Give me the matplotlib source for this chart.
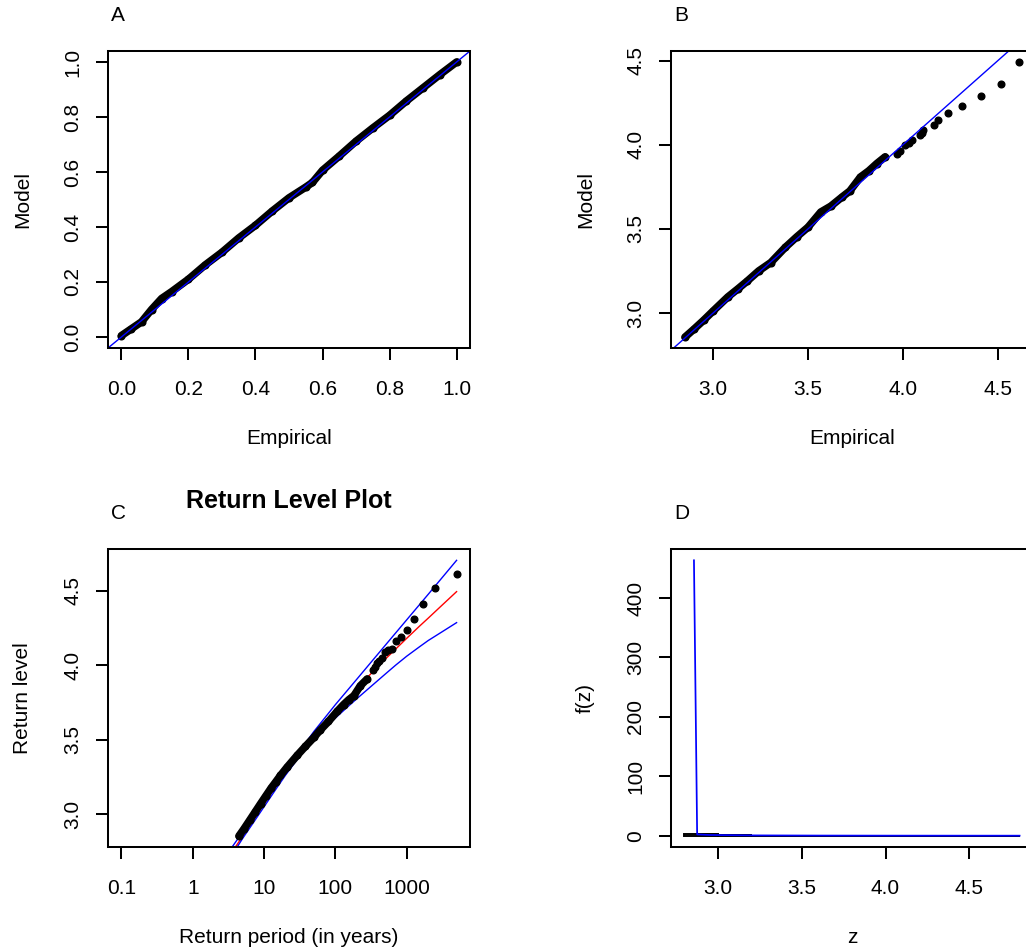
import matplotlib
matplotlib.use("Agg")
import matplotlib.pyplot as plt

plt.rcParams['font.family'] = ['Liberation Sans', 'DejaVu Sans']

# --- A: probability plot (empirical vs model probabilities)
pp_empirical = [0.0, 0.03, 0.06, 0.09, 0.12, 0.15, 0.2, 0.25, 0.3, 0.35, 0.4, 0.45,
                0.5, 0.55, 0.57, 0.6, 0.65, 0.7, 0.75, 0.8, 0.85, 0.9, 0.95, 1.0]
pp_model = [0.005, 0.03, 0.055, 0.1, 0.14, 0.165, 0.21, 0.262, 0.308, 0.36, 0.406, 0.458,
            0.506, 0.545, 0.562, 0.606, 0.658, 0.712, 0.76, 0.806, 0.858, 0.906, 0.954, 1.0]

# --- B: quantile plot, dense body and the sparse upper tail
qq_emp_body = [2.852, 2.9, 2.95, 3.0, 3.077, 3.13, 3.18, 3.24, 3.304, 3.38, 3.44, 3.5,
               3.567, 3.62, 3.68, 3.72, 3.776, 3.82, 3.862, 3.906]
qq_model_body = [2.857, 2.905, 2.957, 3.012, 3.095, 3.143, 3.19, 3.25, 3.3, 3.39, 3.452, 3.51,
                 3.6, 3.635, 3.69, 3.725, 3.808, 3.845, 3.888, 3.928]
z_upper = [3.969, 3.985, 4.012, 4.03, 4.047, 4.091, 4.1, 4.108, 4.161, 4.187, 4.236,
           4.309, 4.411, 4.519, 4.612]
qq_model_upper = [3.947, 3.965, 3.997, 4.012, 4.026, 4.056, 4.07, 4.09, 4.119, 4.149, 4.189,
                  4.23, 4.288, 4.363, 4.492]

# --- C: return levels
rl_period_body = [4.45, 5.2, 6.3, 7.5, 8.93, 10.5, 12.6, 14.5, 17.0, 21.0, 29.2, 38, 50,
                  61.8, 80, 106, 130, 154, 182, 224, 279]
rl_level_body = [2.854, 2.9, 2.96, 3.015, 3.07, 3.12, 3.176, 3.215, 3.26, 3.315, 3.395, 3.455,
                 3.515, 3.566, 3.622, 3.69, 3.735, 3.768, 3.795, 3.862, 3.907]
rl_period_upper = [333, 355, 385, 415, 455, 500, 555, 625, 715, 835, 1000, 1250, 1670, 2500, 5000]

rl_upper_period = [3.3, 5, 10, 20, 50, 100, 200, 500, 1000, 2000, 5000]
rl_upper = [2.757, 2.88, 3.09, 3.295, 3.555, 3.735, 3.906, 4.133, 4.304, 4.475, 4.703]
rl_est_period = [3.7, 5, 7, 10, 15, 20, 30, 50, 70, 100, 150, 200, 300, 500, 700, 1000,
                 1500, 2000, 3000, 5000]
rl_est = [2.759, 2.851, 2.958, 3.07, 3.195, 3.285, 3.405, 3.53, 3.611, 3.69, 3.782, 3.845,
          3.932, 4.04, 4.108, 4.18, 4.26, 4.315, 4.394, 4.493]
rl_lower_period = [3.9, 5, 7, 10, 15, 20, 30, 50, 70, 100, 150, 200, 300, 500, 700, 1000,
                   1500, 2000, 3000, 5000]
rl_lower = [2.756, 2.837, 2.94, 3.05, 3.175, 3.262, 3.375, 3.5, 3.575, 3.645, 3.722, 3.775,
            3.848, 3.94, 4.0, 4.06, 4.122, 4.165, 4.218, 4.285]

# --- D: histogram and fitted density
hist_breaks = [2.8, 3.0, 3.2, 3.4, 3.6, 3.8, 4.0, 4.2, 4.4, 4.6, 4.8]
hist_density = [3.4, 0.9, 0.25, 0.1, 0.05, 0.03, 0.015, 0.008, 0.004, 0.002]
dens_z = [2.857, 2.876, 2.95, 3.2, 3.6, 4.0, 4.4, 4.8]
dens_f = [463.5, 2.2, 1.2, 0.5, 0.2, 0.08, 0.03, 0.01]

W, H = 1026, 952
fig = plt.figure(figsize=(W / 100, H / 100), dpi=100)


def make_axes(left, top, right, bottom):
    return fig.add_axes([left / W, 1 - bottom / H, (right - left) / W, (bottom - top) / H])


def r_style(ax, xticks, xlabels, yticks, ylabels, xlab, ylab):
    ax.minorticks_off()
    ax.set_xticks(xticks, xlabels)
    ax.set_yticks(yticks, ylabels)
    for s in ax.spines.values():
        s.set_linewidth(1.45)
    ax.tick_params(axis='both', length=8.6, width=1.45, labelsize=15, color='black')
    ax.tick_params(axis='x', pad=14.4)
    ax.tick_params(axis='y', pad=12.7)
    for t in ax.get_yticklabels():
        t.set_rotation(90)
        t.set_rotation_mode('anchor')
        t.set_ha('center')
        t.set_va('baseline')
    ax.annotate(xlab, xy=(0.5, 0), xycoords='axes fraction', xytext=(0, -96),
                textcoords='offset pixels', ha='center', va='baseline', fontsize=15)
    ax.annotate(ylab, xy=(0, 0.5), xycoords='axes fraction', xytext=(-80, 0),
                textcoords='offset pixels', ha='center', va='baseline', fontsize=15,
                rotation=90, rotation_mode='anchor')


def dense(ax, x, y, lw=5.5):
    # many overlapping points drawn as a thick band plus the read points
    ax.plot(x, y, color='black', lw=lw, solid_capstyle='round', solid_joinstyle='round')
    ax.plot(x, y, 'o', color='black', ms=4.8)


# A
axA = make_axes(108, 51, 470, 348)
dense(axA, pp_empirical, pp_model)
axA.axline((0, 0), slope=1, color='#0000FF', lw=1.0)
axA.set_xlim(-0.04, 1.04)
axA.set_ylim(-0.04, 1.04)
ticks01 = [0.0, 0.2, 0.4, 0.6, 0.8, 1.0]
r_style(axA, ticks01, [f"{v:.1f}" for v in ticks01], ticks01, [f"{v:.1f}" for v in ticks01],
        'Empirical', 'Model')

# B
axB = make_axes(671, 51, 1033, 348)
dense(axB, qq_emp_body, qq_model_body, lw=5.5)
axB.plot(z_upper, qq_model_upper, 'o', color='black', ms=4.8)
axB.axline((3, 3), slope=1, color='#0000FF', lw=1.0)
axB.set_xlim(2.778, 4.685)
axB.set_ylim(2.792, 4.557)
ticksB = [3.0, 3.5, 4.0, 4.5]
r_style(axB, ticksB, [f"{v:.1f}" for v in ticksB], ticksB, [f"{v:.1f}" for v in ticksB],
        'Empirical', 'Model')

# C
axC = make_axes(108, 549.3, 470, 846.7)
axC.set_xscale('log')
axC.plot(rl_upper_period, rl_upper, color='#0000FF', lw=1.0)
axC.plot(rl_est_period, rl_est, color='#FF0000', lw=1.0)
axC.plot(rl_lower_period, rl_lower, color='#0000FF', lw=1.0)
dense(axC, rl_period_body, rl_level_body)
axC.plot(rl_period_upper, z_upper, 'o', color='black', ms=4.8)
axC.set_xlim(0.0649, 7709)
axC.set_ylim(2.782, 4.777)
ticksCx = [0.1, 1, 10, 100, 1000]
r_style(axC, ticksCx, ['0.1', '1', '10', '100', '1000'], ticksB, [f"{v:.1f}" for v in ticksB],
        'Return period (in years)', 'Return level')
axC.annotate('Return Level Plot', xy=(0.5, 1), xycoords='axes fraction', xytext=(0, 41),
             textcoords='offset pixels', ha='center', va='baseline', fontsize=18,
             fontweight='bold')

# D
axD = make_axes(671, 549.3, 1033, 846.7)
axD.bar(hist_breaks[:-1], hist_density, width=0.2, align='edge', fill=False,
        edgecolor='black', linewidth=1.4)
axD.plot(dens_z, dens_f, color='#0000FF', lw=1.25)
axD.set_xlim(2.72, 4.88)
axD.set_ylim(-18.54, 482.04)
ticksDy = [0, 100, 200, 300, 400]
r_style(axD, ticksB, [f"{v:.1f}" for v in ticksB], ticksDy, [str(v) for v in ticksDy],
        'z', 'f(z)')

# panel letters
for letter, x, y in [('A', 111, 21), ('B', 674, 21), ('C', 111, 519), ('D', 674, 519)]:
    fig.text(x / W, 1 - y / H, letter, ha='left', va='baseline', fontsize=15)

fig.savefig('out.png', dpi=100)
